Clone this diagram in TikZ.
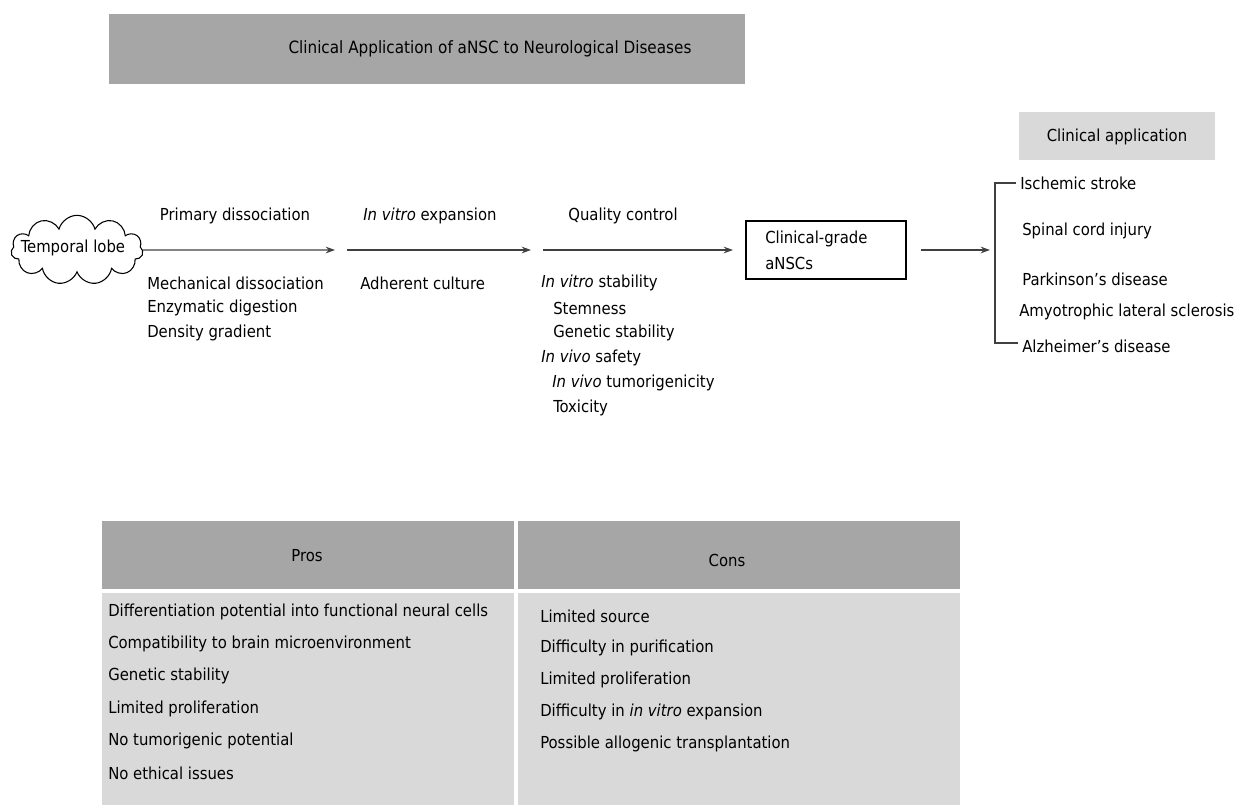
\documentclass[tikz,border=0pt]{standalone}
\usepackage{fontspec}
\setmainfont{DejaVu Sans Condensed}
\usetikzlibrary{shapes.symbols,arrows.meta}
\definecolor{hdr}{HTML}{A6A6A6}
\definecolor{body}{HTML}{D9D9D9}
\definecolor{ln}{HTML}{404040}
\begin{document}
\begin{tikzpicture}[x=0.75pt,y=-0.75pt,
  txt/.style={inner sep=0pt,anchor=west,font=\fontsize{12.4pt}{14pt}\selectfont,text=black},
  ctxt/.style={inner sep=0pt,anchor=center,font=\fontsize{12.4pt}{14pt}\selectfont,text=black},
  flow/.style={draw=ln,line width=1pt,-{Stealth[length=7pt,width=5pt]}},
  brk/.style={draw=ln,line width=0.8pt}]
\useasboundingbox (0,0) rectangle (1249,807);
% title
\fill[hdr] (109,14) rectangle (745,84);
\node[ctxt,font=\fontsize{12.7pt}{14pt}\selectfont] (title) at (490,49) {Clinical Application of aNSC to Neurological Diseases};
% clinical application header
\fill[body] (1019,112) rectangle (1215,160);
\node[ctxt] (clinapp) at (1117,137) {Clinical application};
% cloud
\node[cloud,draw=black,line width=0.8pt,cloud puffs=11,cloud ignores aspect,minimum width=99pt,minimum height=52pt,inner sep=0pt] (cloud) at (77,250) {};
\node[ctxt] (tl) at (73,248) {Temporal lobe};
% flow coordinates
\coordinate (a1e) at (335,250);
\coordinate (a2s) at (347,250);
\coordinate (a2e) at (531,250);
\coordinate (a3s) at (543,250);
\coordinate (a3e) at (733,250);
\draw[flow] (cloud.east) -- (a1e);
\draw[flow] (a2s) -- (a2e);
\draw[flow] (a3s) -- (a3e);
% step labels
\node[ctxt] (pd) at (235,216) {Primary dissociation};
\node[txt] (md) at (147,283) {Mechanical dissociation};
\node[txt] (ed) at (147,308) {Enzymatic digestion};
\node[txt] (dg) at (147,333) {Density gradient};
\node[ctxt] (ive) at (430,216) {\emph{In vitro} expansion};
\node[txt] (ac) at (360,283) {Adherent culture};
\node[ctxt] (qc) at (623,216) {Quality control};
\node[txt] (ivs) at (541,283) {\emph{In vitro} stability};
\node[txt] (stm) at (553,308) {Stemness};
\node[txt] (gs) at (553,333) {Genetic stability};
\node[txt] (ivsa) at (541,358) {\emph{In vivo} safety};
\node[txt] (ivt) at (552,383) {\emph{In vivo} tumorigenicity};
\node[txt] (tox) at (553,408) {Toxicity};
% clinical grade box
\node[draw=black,line width=1.2pt,minimum width=120pt,minimum height=43.5pt,inner sep=0pt] (cg) at (826,250) {};
\node[txt,align=left,font=\fontsize{12.4pt}{19.5pt}\selectfont] (cgt) at (765,250) {Clinical-grade\\aNSCs};
\coordinate (a4e) at (990,250);
\draw[flow] (cg.east) ++(14,0) coordinate (a4s) -- (a4e);
% bracket
\coordinate (bt) at (995,183);
\coordinate (bb) at (995,343);
\draw[brk] (1016,183) -- (bt) -- (bb) -- (1018,343);
\node[txt] (is) at (1020,183) {Ischemic stroke};
\node[txt] (sci) at (1022,231) {Spinal cord injury};
\node[txt] (park) at (1022,279) {Parkinson’s disease};
\node[txt] (als) at (1019,312) {Amyotrophic lateral sclerosis};
\node[txt] (alz) at (1022,346) {Alzheimer’s disease};
% table
\fill[hdr] (102,521) rectangle (514,589);
\fill[hdr] (518,521) rectangle (960,589);
\fill[body] (102,593) rectangle (514,805);
\fill[body] (518,593) rectangle (960,805);
\node[ctxt] (pros) at (307,556) {Pros};
\node[ctxt] (cons) at (727,560) {Cons};
\node[txt] (p1) at (108,612) {Differentiation potential into functional neural cells};
\node[txt] (p2) at (108,644) {Compatibility to brain microenvironment};
\node[txt] (p3) at (108,676) {Genetic stability};
\node[txt] (p4) at (108,709) {Limited proliferation};
\node[txt] (p5) at (108,741) {No tumorigenic potential};
\node[txt] (p6) at (108,773) {No ethical issues};
\node[txt] (c1) at (540,616) {Limited source};
\node[txt] (c2) at (540,648) {Difficulty in purification};
\node[txt] (c3) at (540,680) {Limited proliferation};
\node[txt] (c4) at (540,712) {Difficulty in \emph{in vitro} expansion};
\node[txt] (c5) at (540,744) {Possible allogenic transplantation};
\end{tikzpicture}
\end{document}
